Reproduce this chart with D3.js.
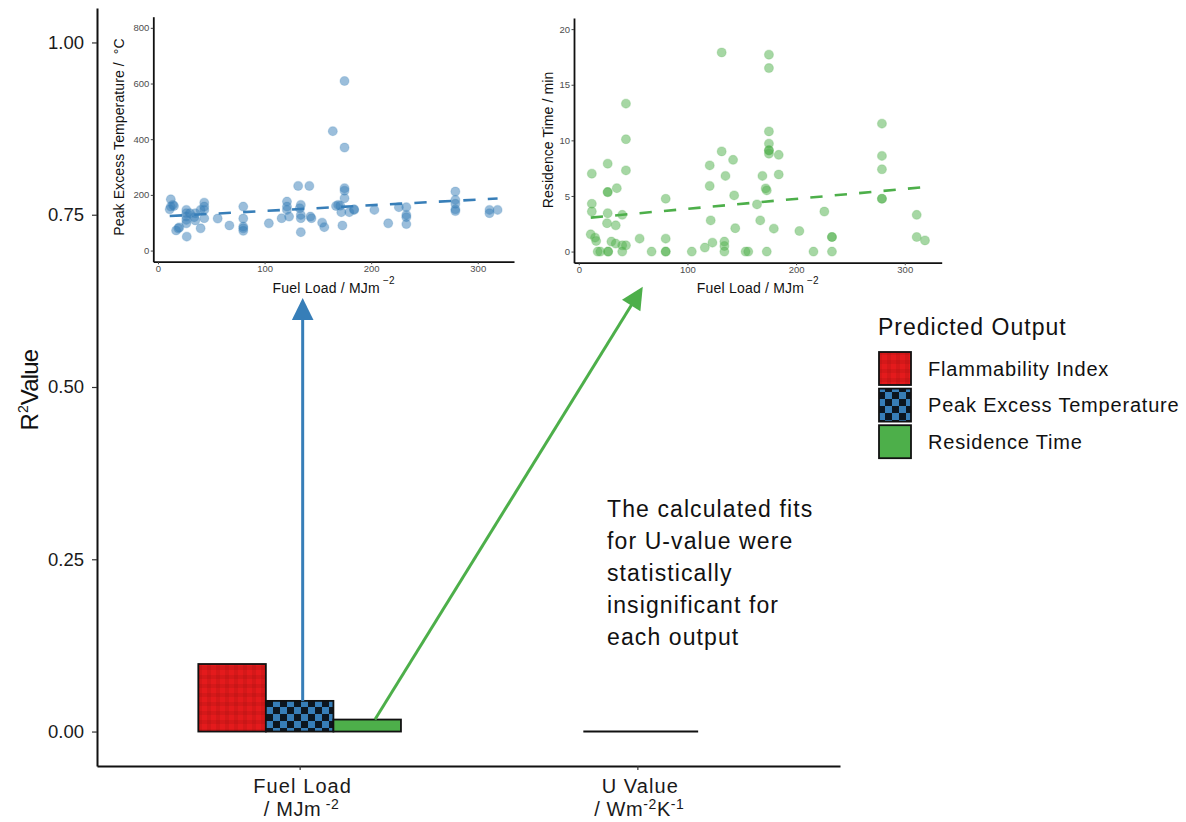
<!DOCTYPE html>
<html>
<head>
<meta charset="utf-8">
<script src="https://cdn.jsdelivr.net/npm/d3@7"></script>
<style>
  body { margin: 0; background: #fff; }
  svg { display: block; font-family: "Liberation Sans", Arial, sans-serif; }
  text { white-space: pre; }
</style>
</head>
<body>
<svg id="chart" width="1186" height="822"></svg>
<script>
// Main bar chart data
const categories = ["Fuel Load", "U Value"];
const outputs = ["Flammability Index", "Peak Excess Temperature", "Residence Time"];
const fuelLoadR2 = [0.098, 0.0445, 0.0174];
const uValueR2 = [0, 0, 0];
const yTicks = [0, 0.25, 0.5, 0.75, 1];
const colors = ["#E41A1C", "#377EB8", "#4DAF4A"];

// Annotation text
const noteLines = ["The calculated fits", "for U-value were", "statistically", "insignificant for", "each output"];

// Inset 1: fuel load vs peak excess temperature
const tempPoints = [
  [12, 184], [12, 158], [14, 164], [15, 160], [11, 148],
  [17, 72], [19, 80], [20, 83],
  [26.6, 146], [26.6, 134], [26.6, 122], [26.6, 110], [26.6, 98], [27, 50],
  [30, 134], [34, 120], [35, 134], [35, 108],
  [40, 146], [43.4, 172], [43.4, 158], [43.4, 146], [43.4, 116], [40, 80],
  [56, 115], [67, 90],
  [80, 158], [80, 115], [80, 86], [80, 80], [80, 71],
  [104, 98], [116, 116],
  [121, 176], [121, 158], [121, 146], [123, 122],
  [131.5, 232], [142, 232],
  [134, 164], [133, 152], [134, 128], [134, 116], [134, 66],
  [143, 122], [144, 116],
  [154, 100], [156, 84],
  [164, 429],
  [167, 160], [169, 164], [171, 161],
  [172, 138], [173, 90],
  [175, 609], [175, 370], [175, 224], [175, 215], [175, 188],
  [179.5, 138], [184, 148], [184, 146],
  [203, 146], [216, 98], [226, 156],
  [233, 156], [233, 128], [233, 120], [233, 95],
  [279, 212], [279, 182], [279, 168], [279, 148], [279, 142],
  [311, 146], [311, 134], [318.6, 146]
];
const tempFit = [[11, 124], [318.6, 187]];
const tempTicks = [0, 200, 400, 600, 800];

// Inset 2: fuel load vs residence time
const timePoints = [
  [12, 7.0], [12, 4.3], [12, 3.6], [11, 1.55], [15, 1.25], [16, 0.95], [17.4, 0], [19.8, 0],
  [26.6, 7.9], [26.6, 5.35], [26.6, 5.35], [26.6, 3.45], [26, 2.55], [27, 0], [27, 0],
  [30, 0.9], [34, 2.36], [35, 5.7], [34, 0.72],
  [40, 3.3], [40, 0.56], [40, 0],
  [43.4, 13.3], [43.4, 10.1], [43.4, 7.3], [43.4, 0.56],
  [56, 1.16], [67, 0],
  [80, 4.75], [80, 1.16], [80, 0], [80, 0],
  [104, 0], [116, 0.36], [120.5, 7.75], [120.5, 5.9], [121.4, 2.8], [123, 0.8],
  [131.5, 17.9], [131.5, 9.0], [134, 0.9], [134, 0.5], [134, 0], [135, 6.8],
  [142, 8.25], [143, 5.05], [144, 2.1],
  [153.5, 0], [156, 0],
  [164, 4.24], [167, 2.8], [169, 6.8], [172, 5.68], [173, 5.5], [173, 0],
  [175, 17.7], [175, 16.5], [175, 10.8], [175, 9.7], [175, 9.1], [175, 9.1], [175, 8.8],
  [179.5, 2.06], [184, 8.7], [184, 6.93],
  [203, 1.85], [216, 0], [226, 3.6], [233, 1.31], [233, 1.31], [233, 0],
  [279, 11.5], [279, 8.6], [279, 7.4], [279, 4.75], [279, 4.75],
  [311, 3.3], [311, 1.31], [318.6, 1.0]
];
const timeFit = [[11, 3.05], [318.6, 5.8]];
const timeTicks = [0, 5, 10, 15, 20];

const fuelTicks = [0, 100, 200, 300];
const fuelDomain = [-4.4, 334];

const svg = d3.select("#chart");

// Fill patterns for the bars
const defs = svg.append("defs");
const plaid = defs.append("pattern").attr("id", "plaid")
  .attr("width", 9).attr("height", 9).attr("patternUnits", "userSpaceOnUse");
plaid.append("rect").attr("width", 9).attr("height", 9).attr("fill", colors[0]);
plaid.append("rect").attr("width", 4).attr("height", 9).attr("fill", "#8a0a0c").attr("opacity", 0.16);
plaid.append("rect").attr("width", 9).attr("height", 4).attr("fill", "#8a0a0c").attr("opacity", 0.16);

const checker = defs.append("pattern").attr("id", "checker")
  .attr("width", 14).attr("height", 14).attr("patternUnits", "userSpaceOnUse");
checker.append("rect").attr("width", 14).attr("height", 14).attr("fill", colors[1]);
checker.append("rect").attr("width", 7).attr("height", 7).attr("fill", "#0c1620");
checker.append("rect").attr("x", 7).attr("y", 7).attr("width", 7).attr("height", 7).attr("fill", "#0c1620");

const fills = ["url(#plaid)", "url(#checker)", colors[2]];

// Main panel
const main = { left: 97, right: 840, top: 8, bottom: 766 };

const x = d3.scalePoint().domain(categories).range([main.left, main.right]).padding(0.6);
const xLin = d3.scaleLinear().domain([0.4, 2.6]).range([main.left, main.right]);
const y = d3.scaleLinear().domain([-0.05, 1.05]).range([main.bottom, main.top]);
const sub = d3.scaleBand().domain(outputs).range([-0.3 * x.step(), 0.3 * x.step()]);

// Bars
const barData = [];
categories.forEach((c, i) => {
  const vals = i === 0 ? fuelLoadR2 : uValueR2;
  outputs.forEach((o, j) => barData.push({ cat: c, out: o, value: vals[j], k: j }));
});

svg.append("g").selectAll("rect")
  .data(barData.filter(d => d.value > 0))
  .join("rect")
  .attr("x", d => x(d.cat) + sub(d.out))
  .attr("y", d => y(d.value))
  .attr("width", sub.bandwidth())
  .attr("height", d => y(0) - y(d.value))
  .attr("fill", d => fills[d.k])
  .attr("stroke", "#111")
  .attr("stroke-width", 1.8);

// Flat line for the insignificant U value fits
svg.append("line")
  .attr("x1", xLin(1.84)).attr("x2", xLin(2.18))
  .attr("y1", y(0)).attr("y2", y(0))
  .attr("stroke", "#111").attr("stroke-width", 2);

// Axes
const yAxis = svg.append("g")
  .attr("transform", `translate(${main.left},0)`)
  .call(d3.axisLeft(y).tickValues(yTicks).tickFormat(d3.format(".2f")).tickSize(5).tickSizeOuter(0).tickPadding(8));
yAxis.selectAll("text").attr("font-size", 18.5).attr("fill", "#1a1a1a").attr("font-family", "Liberation Sans, Arial");

const xAxis = svg.append("g")
  .attr("transform", `translate(0,${main.bottom})`)
  .call(d3.axisBottom(x).tickSize(4).tickSizeOuter(0).tickFormat(""));

[yAxis, xAxis].forEach(a => {
  a.select(".domain").attr("stroke", "#111").attr("stroke-width", 2);
  a.selectAll(".tick line").attr("stroke", "#333").attr("stroke-width", 1.2);
});

// Two-line category labels with superscripts
const unitParts = {
  "Fuel Load": [["/ MJm", 0], [" -2", 1]],
  "U Value": [["/ Wm", 0], ["-2", 1], ["K", 0], ["-1", 1]]
};
categories.forEach(c => {
  svg.append("text")
    .attr("x", x(c) + 3).attr("y", 793)
    .attr("text-anchor", "middle")
    .attr("font-size", 20).attr("letter-spacing", 1.1).attr("fill", "#1a1a1a")
    .text(c);
  const t = svg.append("text")
    .attr("x", x(c) + 2).attr("y", 816)
    .attr("text-anchor", "middle")
    .attr("font-size", 20).attr("letter-spacing", 0.6).attr("fill", "#1a1a1a");
  let raised = 0;
  unitParts[c].forEach(([s, sup]) => {
    const dy = sup ? -7 - raised : (raised ? 7 : 0);
    raised = sup ? 7 : 0;
    t.append("tspan").attr("dy", dy).attr("font-size", sup ? 14 : 20).text(s);
  });
});

// Y axis title
const yTitle = svg.append("text")
  .attr("transform", `translate(38,${(main.top + main.bottom) / 2 + 3}) rotate(-90)`)
  .attr("text-anchor", "middle")
  .attr("font-size", 24).attr("fill", "#111");
yTitle.append("tspan").text("R");
yTitle.append("tspan").attr("font-size", 14).attr("dy", -10).text("2");
yTitle.append("tspan").attr("dy", 10).attr("letter-spacing", -0.8).text("Value");

// Arrows from bars to insets
function arrow(x0, y0, x1, y1, color) {
  const dx = x1 - x0, dy = y1 - y0, len = Math.hypot(dx, dy);
  const ux = dx / len, uy = dy / len;
  const hl = 22, hw = 10.8;
  const bx = x1 - ux * hl, by = y1 - uy * hl;
  svg.append("line")
    .attr("x1", x0).attr("y1", y0).attr("x2", bx + ux * 2).attr("y2", by + uy * 2)
    .attr("stroke", color).attr("stroke-width", 3);
  svg.append("path")
    .attr("d", `M${x1},${y1}L${bx - uy * hw},${by + ux * hw}L${bx + uy * hw},${by - ux * hw}Z`)
    .attr("fill", color);
}
arrow(xLin(1.009), y(fuelLoadR2[1]), xLin(1.009), y(0.629), colors[1]);
arrow(xLin(1.223), y(fuelLoadR2[2]), xLin(2.016), y(0.6455), colors[2]);

// Annotation
const note = svg.append("text")
  .attr("x", 607).attr("y", 517)
  .attr("font-size", 23).attr("letter-spacing", 1.1).attr("fill", "#111");
noteLines.forEach((l, i) => {
  note.append("tspan").attr("x", 607).attr("dy", i === 0 ? 0 : 32).text(l);
});

// Legend
const legend = svg.append("g").attr("transform", "translate(878,0)");
legend.append("text").attr("x", 0).attr("y", 335)
  .attr("font-size", 23).attr("letter-spacing", 1).attr("fill", "#111")
  .text("Predicted Output");
outputs.forEach((o, i) => {
  const ky = 352 + i * 36.6;
  legend.append("rect")
    .attr("x", 1).attr("y", ky).attr("width", 32).attr("height", 33)
    .attr("fill", fills[i]).attr("stroke", "#111").attr("stroke-width", 1.8);
  legend.append("text")
    .attr("x", 50).attr("y", ky + 16.5).attr("dy", "0.36em")
    .attr("font-size", 20).attr("letter-spacing", 0.8).attr("fill", "#111")
    .text(o);
});

// Scatter insets
function inset(cfg) {
  const g = svg.append("g");
  const sx = d3.scaleLinear().domain(fuelDomain).range(cfg.xRange);
  const sy = d3.scaleLinear().domain(cfg.yDomain).range(cfg.yRange);

  g.append("g").selectAll("circle")
    .data(cfg.points)
    .join("circle")
    .attr("cx", d => sx(d[0]))
    .attr("cy", d => sy(d[1]))
    .attr("r", 4.5)
    .attr("fill", cfg.color).attr("fill-opacity", 0.5)
    .attr("stroke", cfg.color).attr("stroke-opacity", 0.22).attr("stroke-width", 1.2);

  g.append("line")
    .attr("x1", sx(cfg.fit[0][0])).attr("y1", sy(cfg.fit[0][1]))
    .attr("x2", sx(cfg.fit[1][0])).attr("y2", sy(cfg.fit[1][1]))
    .attr("stroke", cfg.color).attr("stroke-width", 2.6)
    .attr("stroke-dasharray", "12.3 12.2");

  const ax = g.append("g")
    .attr("transform", `translate(0,${cfg.yRange[0]})`)
    .call(d3.axisBottom(sx).tickValues(fuelTicks).tickSize(2.5).tickSizeOuter(0).tickPadding(1.5));
  const ay = g.append("g")
    .attr("transform", `translate(${cfg.xRange[0]},0)`)
    .call(d3.axisLeft(sy).tickValues(cfg.yTicks).tickSize(2.5).tickSizeOuter(0).tickPadding(1.5));
  [ax, ay].forEach(a => {
    a.select(".domain").attr("stroke", "#111").attr("stroke-width", 1.8);
    a.selectAll(".tick line").attr("stroke", "#444");
    a.selectAll("text").attr("font-size", 9.5).attr("fill", "#4d4d4d").attr("font-family", "Liberation Sans, Arial");
  });

  const xt = g.append("text")
    .attr("x", (cfg.xRange[0] + cfg.xRange[1]) / 2).attr("y", 292.5)
    .attr("text-anchor", "middle").attr("font-size", 14).attr("letter-spacing", 0.2).attr("fill", "#111");
  xt.append("tspan").text("Fuel Load / MJm");
  xt.append("tspan").attr("font-size", 10).attr("dy", -9).attr("dx", 3).text("\u22122");

  g.append("text")
    .attr("transform", `translate(${cfg.titleX},${cfg.titleY}) rotate(-90)`)
    .attr("text-anchor", "middle").attr("font-size", 14).attr("letter-spacing", 0.1).attr("fill", "#111")
    .text(cfg.title);
}

inset({
  points: tempPoints, fit: tempFit, color: colors[1],
  xRange: [153.3, 514], yRange: [261.7, 16.7], yDomain: [-40, 840], yTicks: tempTicks,
  title: "Peak Excess Temperature /  \u00B0C", titleX: 124, titleY: 137
});
inset({
  points: timePoints, fit: timeFit, color: colors[2],
  xRange: [574, 941.7], yRange: [262.7, 18], yDomain: [-1, 21], yTicks: timeTicks,
  title: "Residence Time / min", titleX: 553, titleY: 140
});
</script>
</body>
</html>
